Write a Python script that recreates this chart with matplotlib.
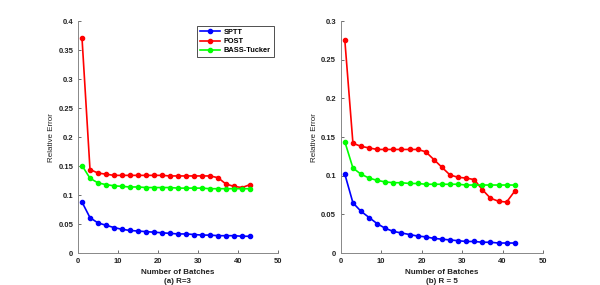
import numpy as np
import matplotlib.pyplot as plt

plt.rcParams['font.family'] = ['Liberation Sans', 'DejaVu Sans']
plt.rcParams['font.weight'] = 'bold'

batches = np.arange(1, 44, 2)

# (a) R=3
sptt_a = [0.088, 0.061, 0.052, 0.048, 0.044, 0.041, 0.039, 0.038, 0.037, 0.036, 0.035,
          0.034, 0.033, 0.033, 0.032, 0.031, 0.031, 0.030, 0.030, 0.030, 0.029, 0.029]
post_a = [0.371, 0.144, 0.138, 0.136, 0.134, 0.134, 0.134, 0.134, 0.134, 0.134, 0.134,
          0.133, 0.133, 0.133, 0.133, 0.133, 0.133, 0.130, 0.119, 0.115, 0.113, 0.118]
bass_a = [0.151, 0.129, 0.121, 0.118, 0.116, 0.115, 0.114, 0.114, 0.113, 0.113, 0.113,
          0.113, 0.112, 0.112, 0.112, 0.112, 0.111, 0.111, 0.111, 0.111, 0.111, 0.111]

# (b) R = 5
sptt_b = [0.102, 0.065, 0.054, 0.046, 0.038, 0.032, 0.028, 0.026, 0.024, 0.022, 0.021,
          0.019, 0.018, 0.017, 0.016, 0.015, 0.015, 0.014, 0.014, 0.013, 0.013, 0.013]
post_b = [0.275, 0.142, 0.138, 0.136, 0.134, 0.134, 0.134, 0.134, 0.134, 0.134, 0.131,
          0.121, 0.111, 0.101, 0.098, 0.097, 0.095, 0.082, 0.071, 0.067, 0.066, 0.080]
bass_b = [0.144, 0.110, 0.102, 0.097, 0.094, 0.092, 0.091, 0.091, 0.090, 0.090, 0.089,
          0.089, 0.089, 0.089, 0.089, 0.088, 0.088, 0.088, 0.088, 0.088, 0.088, 0.088]

fig = plt.figure(figsize=(6, 2.85), dpi=100)
ax1 = fig.add_axes([0.13, 0.112, 0.3333, 0.814])
ax2 = fig.add_axes([0.568, 0.112, 0.337, 0.814])

def draw(ax, sptt, post, bass, ymax, yticks, ytlabels, title):
    ax.plot(batches, sptt, '-o', color='#0000ff', lw=1.2, ms=3, label='SPTT')
    ax.plot(batches, post, '-o', color='#ff0000', lw=1.2, ms=3, label='POST')
    ax.plot(batches, bass, '-o', color='#00ff00', lw=1.2, ms=3, label='BASS-Tucker')
    ax.set_xlim(0, 50)
    ax.set_ylim(0, ymax)
    ax.set_xticks([0, 10, 20, 30, 40, 50])
    ax.set_yticks(yticks)
    ax.set_yticklabels(ytlabels)
    ax.tick_params(direction='in', labelsize=5.5, length=2.5, width=0.6, color='#555555',
                   labelcolor='#222222', pad=3.5)
    for s in ['top', 'right']:
        ax.spines[s].set_visible(False)
    for s in ['left', 'bottom']:
        ax.spines[s].set_color('#888888')
        ax.spines[s].set_linewidth(0.7)
    ax.set_ylabel('Relative Error', fontsize=5.8, labelpad=2, color='#222222')
    pos = ax.get_position()
    xc = (pos.x0 + pos.x1) / 2
    fig.text(xc, 1 - 273 / 285, 'Number of Batches', ha='center', va='center',
             fontsize=5.8, color='#222222')
    fig.text(xc, 1 - 281.5 / 285, title, ha='center', va='center',
             fontsize=5.8, color='#222222')

draw(ax1, sptt_a, post_a, bass_a, 0.4,
     [0, 0.05, 0.1, 0.15, 0.2, 0.25, 0.3, 0.35, 0.4],
     ['0', '0.05', '0.1', '0.15', '0.2', '0.25', '0.3', '0.35', '0.4'], '(a) R=3')
draw(ax2, sptt_b, post_b, bass_b, 0.3,
     [0, 0.05, 0.1, 0.15, 0.2, 0.25, 0.3],
     ['0', '0.05', '0.1', '0.15', '0.2', '0.25', '0.3'], '(b) R = 5')

leg = ax1.legend(loc='upper right', bbox_to_anchor=(0.985, 0.985), fontsize=5.3, frameon=True,
                 fancybox=False, edgecolor='black', handlelength=2.8, borderpad=0.35,
                 labelspacing=0.3, handletextpad=0.5, borderaxespad=0.2)
leg.get_frame().set_linewidth(0.6)

fig.savefig('out.png', dpi=100)
